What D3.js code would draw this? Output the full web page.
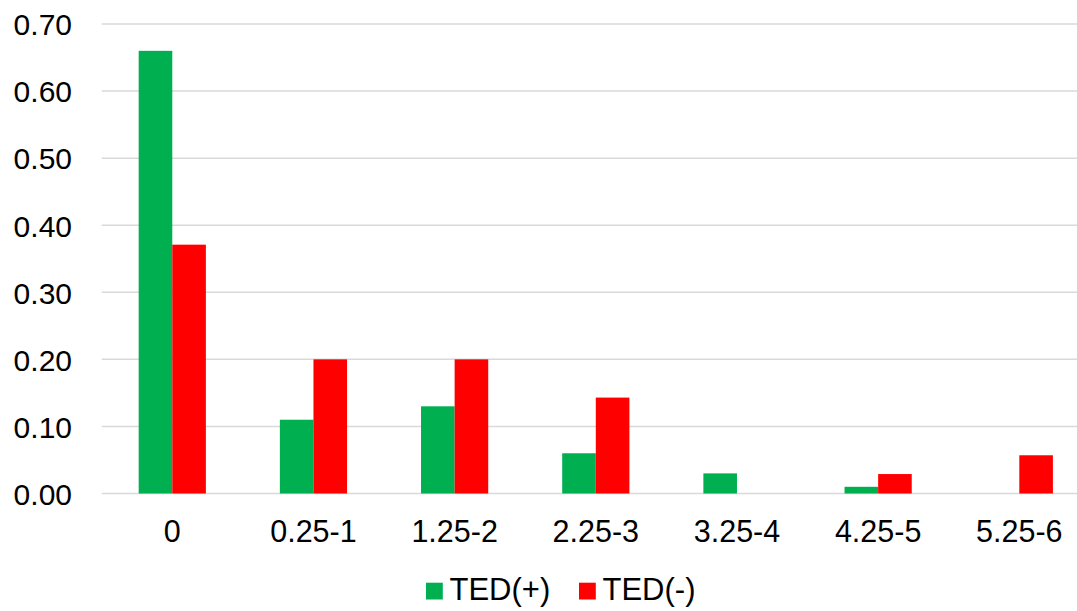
<!DOCTYPE html>
<html>
<head>
<meta charset="utf-8">
<script src="https://cdn.jsdelivr.net/npm/d3@7"></script>
<style>
  html, body { margin: 0; padding: 0; background: #fff; }
  svg { display: block; }
  text { font-family: Arial, "Liberation Sans", sans-serif; fill: #000; }
</style>
</head>
<body>
<svg id="chart" width="1077" height="611"></svg>
<script>
const categories = ["0", "0.25-1", "1.25-2", "2.25-3", "3.25-4", "4.25-5", "5.25-6"];
const seriesNames = ["TED(+)", "TED(-)"];
const tedPlus  = [0.66, 0.11, 0.13, 0.06, 0.03, 0.01, 0.00];
const tedMinus = [0.371, 0.20, 0.20, 0.143, 0.00, 0.029, 0.057];
const yTicks = [0, 0.1, 0.2, 0.3, 0.4, 0.5, 0.6, 0.7];
const colors = ["#00B050", "#FF0000"];

const svg = d3.select("#chart");
const plotLeft = 101.7, plotRight = 1089.9, plotTop = 24, plotBottom = 493.5;

const x = d3.scaleBand().domain(categories).range([plotLeft, plotRight])
  .paddingInner(0.524).paddingOuter(0.262);
const xs = d3.scaleBand().domain(seriesNames).range([0, x.bandwidth()]);
const y = d3.scaleLinear().domain([0, 0.7]).range([plotBottom, plotTop]);

// gridlines
svg.append("g").selectAll("line").data(yTicks).join("line")
  .attr("x1", plotLeft).attr("x2", plotRight)
  .attr("y1", d => y(d)).attr("y2", d => y(d))
  .attr("stroke", "#d9d9d9").attr("stroke-width", 1.5);

// y axis labels
const yAxis = d3.axisLeft(y).tickValues(yTicks).tickFormat(d3.format(".2f")).tickSize(0).tickPadding(0);
const gy = svg.append("g").attr("transform", `translate(72,0)`).call(yAxis);
gy.select(".domain").remove();
gy.selectAll("text").attr("font-size", "30px").attr("font-family", "Arial, 'Liberation Sans', sans-serif").attr("fill", "#000").attr("dy", "0.36em");

// bars
const data = categories.map((c, i) => ({ c, vals: [tedPlus[i], tedMinus[i]] }));
const groups = svg.append("g").selectAll("g").data(data).join("g")
  .attr("transform", d => `translate(${x(d.c)},0)`);
groups.selectAll("rect").data(d => d.vals.map((v, j) => ({ v, s: seriesNames[j], j })))
  .join("rect")
  .attr("x", d => xs(d.s))
  .attr("width", xs.bandwidth())
  .attr("y", d => y(d.v))
  .attr("height", d => y(0) - y(d.v))
  .attr("fill", d => colors[d.j]);

// x axis labels
const xAxis = d3.axisBottom(x).tickSize(0).tickPadding(0);
const gx = svg.append("g").attr("transform", `translate(0,${plotBottom})`).call(xAxis);
gx.select(".domain").remove();
gx.selectAll("text").attr("font-size", "30.5px").attr("font-family", "Arial, 'Liberation Sans', sans-serif").attr("fill", "#000").attr("dy", null).attr("y", 48.8);

// legend
const legendItems = [
  { name: seriesNames[0], color: colors[0], x: 426 },
  { name: seriesNames[1], color: colors[1], x: 579 }
];
const lg = svg.append("g");
legendItems.forEach(it => {
  lg.append("rect").attr("x", it.x).attr("y", 582.7).attr("width", 16.8).attr("height", 16.8).attr("fill", it.color);
  lg.append("text").attr("x", it.x + 23.5).attr("y", 599.5).attr("font-size", "31px").text(it.name);
});
</script>
</body>
</html>
